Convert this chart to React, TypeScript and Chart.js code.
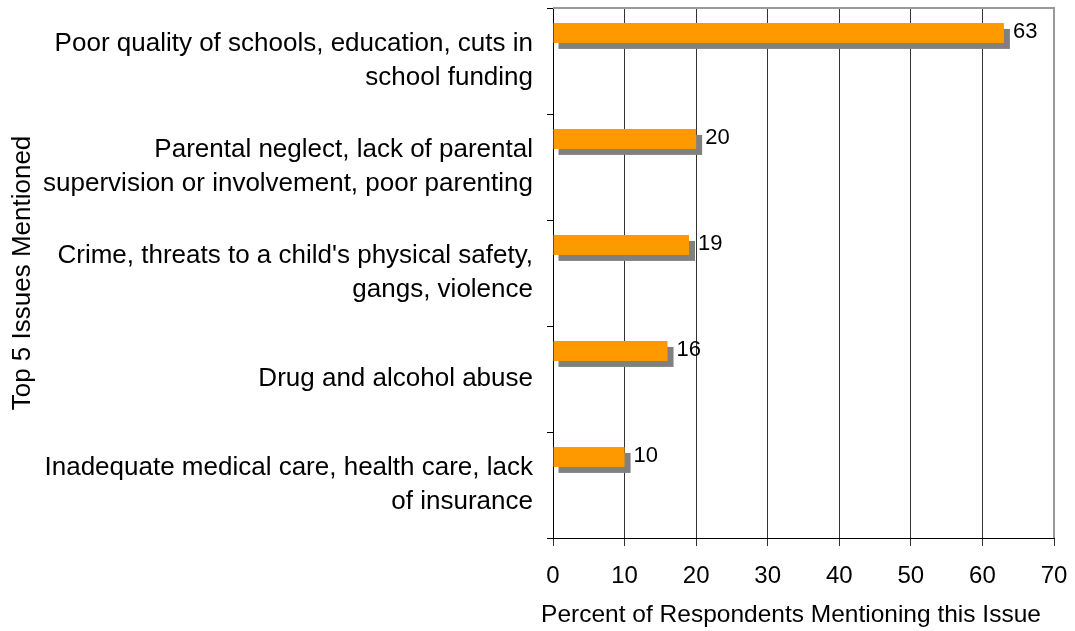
import React, { useEffect, useRef } from "react";
import { Chart, registerables } from "chart.js";

Chart.register(...registerables);

const categories: string[][] = [
  ["Poor quality of schools, education, cuts in", "school funding"],
  ["Parental neglect, lack of parental", "supervision or involvement, poor parenting"],
  ["Crime, threats to a child's physical safety,", "gangs, violence"],
  ["Drug and alcohol abuse"],
  ["Inadequate medical care, health care, lack", "of insurance"],
];
const values: number[] = [63, 20, 19, 16, 10];
const xTicks: number[] = [0, 10, 20, 30, 40, 50, 60, 70];
const xTitle = "Percent of Respondents Mentioning this Issue";
const yTitle = "Top 5 Issues Mentioned";

const FONT = "'Liberation Sans', Arial, Helvetica, sans-serif";
const ORANGE = "#FF9900";
const SHADOW = "#808080";

const shadowPlugin = {
  id: "shadowPlugin",
  beforeDatasetsDraw(chart: any) {
    const ctx = chart.ctx;
    const meta = chart.getDatasetMeta(0);
    ctx.save();
    ctx.fillStyle = SHADOW;
    meta.data.forEach((el: any) => {
      const { x, y, base, height } = el.getProps(["x", "y", "base", "height"], true);
      ctx.fillRect(base + 5, y - height / 2 + 6, x - base + 1, height);
    });
    ctx.restore();
  },
  afterDatasetsDraw(chart: any) {
    const ctx = chart.ctx;
    const meta = chart.getDatasetMeta(0);
    ctx.save();
    ctx.fillStyle = "#000";
    ctx.font = `22px ${FONT}`;
    ctx.textAlign = "left";
    ctx.textBaseline = "middle";
    meta.data.forEach((el: any, i: number) => {
      const { x, y } = el.getProps(["x", "y"], true);
      ctx.fillText(String(values[i]), x + 9, y - 1);
    });
    ctx.restore();
  },
  afterDraw(chart: any) {
    const ctx = chart.ctx;
    const a = chart.chartArea;
    ctx.save();
    ctx.strokeStyle = "#999";
    ctx.lineWidth = 2;
    ctx.beginPath();
    ctx.moveTo(a.left, a.top);
    ctx.lineTo(a.right, a.top);
    ctx.lineTo(a.right, a.bottom);
    ctx.stroke();
    ctx.fillStyle = "#000";
    ctx.font = `24.5px ${FONT}`;
    ctx.textAlign = "center";
    ctx.textBaseline = "alphabetic";
    ctx.fillText(xTitle, 791, 622);
    ctx.save();
    ctx.translate(30, (a.top + a.bottom) / 2);
    ctx.rotate(-Math.PI / 2);
    ctx.font = `26px ${FONT}`;
    ctx.fillText(yTitle, 0, 0);
    ctx.restore();
    ctx.restore();
  },
};

export default function App() {
  const ref = useRef<HTMLCanvasElement | null>(null);
  useEffect(() => {
    if (!ref.current) return;
    const chart = new Chart(ref.current, {
      type: "bar",
      data: {
        labels: categories as any,
        datasets: [
          {
            data: values,
            backgroundColor: ORANGE,
            borderWidth: 0,
            categoryPercentage: 1.06,
            barPercentage: 0.356,
          },
          {
            data: values.map(() => null) as any,
            backgroundColor: "transparent",
            categoryPercentage: 1.06,
            barPercentage: 0.356,
          },
        ],
      },
      options: {
        indexAxis: "y",
        responsive: false,
        animation: false,
        layout: { padding: { top: 8, right: 21, left: 0, bottom: 0 } },
        plugins: {
          legend: { display: false },
          tooltip: { enabled: false },
        },
        scales: {
          x: {
            min: 0,
            max: 70,
            afterBuildTicks(scale: any) {
              scale.ticks = xTicks.map((v) => ({ value: v }));
            },
            afterFit(scale: any) {
              scale.height = 93;
              scale.paddingLeft = 0;
              scale.paddingRight = 0;
            },
            grid: {
              color: "#333",
              lineWidth: 1,
              drawTicks: true,
              tickLength: 8,
              tickColor: "#333",
            },
            border: { color: "#000", width: 1 },
            ticks: {
              color: "#000",
              padding: 16,
              font: { family: FONT, size: 24 },
              maxRotation: 0,
            },
          },
          y: {
            afterFit(scale: any) {
              scale.width = 553;
              scale.paddingTop = 0;
              scale.paddingBottom = 0;
            },
            grid: {
              drawOnChartArea: false,
              drawTicks: true,
              tickLength: 6,
              tickColor: "#000",
              offset: true,
            },
            border: { color: "#000", width: 1 },
            ticks: {
              color: "#000",
              padding: 14,
              font: { family: FONT, size: 26, lineHeight: 1.3 },
              autoSkip: false,
            },
          },
        },
      },
      plugins: [shadowPlugin],
    });
    return () => chart.destroy();
  }, []);
  return (
    <div style={{ position: "fixed", left: 0, top: 0, width: 1075, height: 631, background: "#fff" }}>
      <canvas ref={ref} width={1075} height={631} style={{ display: "block" }} />
    </div>
  );
}
